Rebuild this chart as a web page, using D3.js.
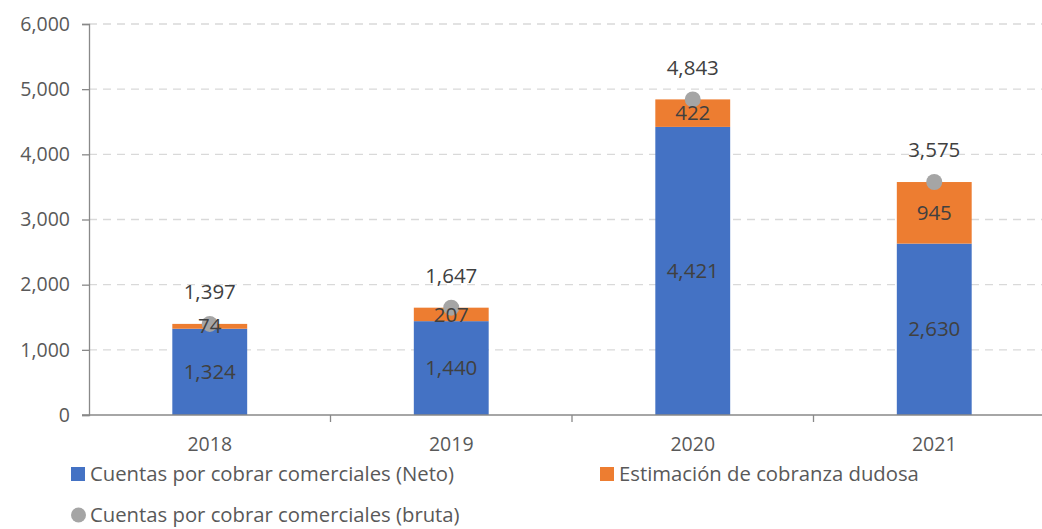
<!DOCTYPE html>
<meta charset="utf-8">
<style>
body { margin: 0; background: #fff; }
text { font-family: "Open Sans", sans-serif; }
</style>
<body>
<script src="https://d3js.org/d3.v7.min.js"></script>
<script>

// data
var years = ["2018", "2019", "2020", "2021"];
var neto = [1324, 1440, 4421, 2630];
var estimacion = [74, 207, 422, 945];
var bruta = [1397, 1647, 4843, 3575];
var yTicks = [0, 1000, 2000, 3000, 4000, 5000, 6000];
var seriesNames = ["Cuentas por cobrar comerciales (Neto)", "Estimación de cobranza dudosa", "Cuentas por cobrar comerciales (bruta)"];

var width = 1042, height = 529;
var fmt = d3.format(",");

var svg = d3.select("body").append("svg")
    .attr("width", width)
    .attr("height", height);

var x = d3.scaleBand().domain(years).range([89, 1055]).paddingInner(0.69).paddingOuter(0.345);
var y = d3.scaleLinear().domain([0, 6000]).range([415, 24]);

// gridlines
svg.append("g").selectAll("line")
    .data(yTicks.filter(function(d) { return d > 0; }))
  .enter().append("line")
    .attr("x1", 89).attr("x2", width)
    .attr("y1", function(d) { return y(d); })
    .attr("y2", function(d) { return y(d); })
    .attr("stroke", "#d9d9d9")
    .attr("stroke-width", 1.3)
    .attr("stroke-dasharray", "8,6");

// y axis
var yAxis = svg.append("g")
    .attr("transform", "translate(89,0)")
    .call(d3.axisLeft(y).tickValues(yTicks).tickFormat(fmt).tickSize(7).tickPadding(12));
yAxis.select(".domain").attr("stroke", "#898989").attr("stroke-width", 1.3);
yAxis.selectAll(".tick line").attr("stroke", "#898989").attr("stroke-width", 1.3);
yAxis.selectAll(".tick text").attr("fill", "#595959").style("font-size", "19.5px");

// bars
var bars = svg.append("g");
bars.selectAll(".neto")
    .data(years)
  .enter().append("rect")
    .attr("x", function(d) { return x(d); })
    .attr("width", x.bandwidth())
    .attr("y", function(d, i) { return y(neto[i]); })
    .attr("height", function(d, i) { return y(0) - y(neto[i]); })
    .attr("fill", "#4472c4");
bars.selectAll(".est")
    .data(years)
  .enter().append("rect")
    .attr("x", function(d) { return x(d); })
    .attr("width", x.bandwidth())
    .attr("y", function(d, i) { return y(neto[i] + estimacion[i]); })
    .attr("height", function(d, i) { return y(neto[i]) - y(neto[i] + estimacion[i]); })
    .attr("fill", "#ed7d31");

// x axis
var xAxis = svg.append("g")
    .attr("transform", "translate(0,415)")
    .call(d3.axisBottom(x).tickSize(0).tickPadding(22));
xAxis.select(".domain").remove();
xAxis.append("line").attr("x1", 82).attr("x2", width).attr("stroke", "#898989").attr("stroke-width", 1.3);
xAxis.selectAll(".sep")
    .data(years.slice(1))
  .enter().append("line")
    .attr("x1", function(d) { return x(d) - x.step() * x.paddingInner() / 2; })
    .attr("x2", function(d) { return x(d) - x.step() * x.paddingInner() / 2; })
    .attr("y1", 0).attr("y2", 7)
    .attr("stroke", "#898989").attr("stroke-width", 1.3);
xAxis.selectAll(".tick text").attr("fill", "#595959").style("font-size", "19.5px");

// points
svg.append("g").selectAll("circle")
    .data(years)
  .enter().append("circle")
    .attr("cx", function(d) { return x(d) + x.bandwidth() / 2; })
    .attr("cy", function(d, i) { return y(bruta[i]); })
    .attr("r", 8)
    .attr("fill", "#a5a5a5");

// labels
var labels = svg.append("g")
    .attr("fill", "#404040")
    .style("font-size", "20.5px")
    .attr("text-anchor", "middle");
labels.selectAll(".ln")
    .data(years)
  .enter().append("text")
    .attr("x", function(d) { return x(d) + x.bandwidth() / 2; })
    .attr("y", function(d, i) { return (y(0) + y(neto[i])) / 2; })
    .attr("dy", "0.35em")
    .text(function(d, i) { return fmt(neto[i]); });
labels.selectAll(".le")
    .data(years)
  .enter().append("text")
    .attr("x", function(d) { return x(d) + x.bandwidth() / 2; })
    .attr("y", function(d, i) { return (y(neto[i]) + y(neto[i] + estimacion[i])) / 2; })
    .attr("dy", "0.35em")
    .text(function(d, i) { return fmt(estimacion[i]); });
labels.selectAll(".lb")
    .data(years)
  .enter().append("text")
    .attr("x", function(d) { return x(d) + x.bandwidth() / 2; })
    .attr("y", function(d, i) { return y(bruta[i]) - 32; })
    .attr("dy", "0.35em")
    .text(function(d, i) { return fmt(bruta[i]); });

// legend
var legend = svg.append("g").style("font-size", "20.3px").attr("fill", "#595959");
var lg = [
  {x: 71, y: 474, color: "#4472c4", shape: "rect"},
  {x: 600, y: 474, color: "#ed7d31", shape: "rect"},
  {x: 71, y: 515, color: "#a5a5a5", shape: "circle"}
];
lg.forEach(function(d, i) {
  if (d.shape === "rect") {
    legend.append("rect").attr("x", d.x).attr("y", d.y - 7).attr("width", 14).attr("height", 14).attr("fill", d.color);
  } else {
    legend.append("circle").attr("cx", d.x + 7.5).attr("cy", d.y).attr("r", 7.5).attr("fill", d.color);
  }
  legend.append("text").attr("x", d.x + 19).attr("y", d.y).attr("dy", "0.35em").text(seriesNames[i]);
});

</script>
</body>
